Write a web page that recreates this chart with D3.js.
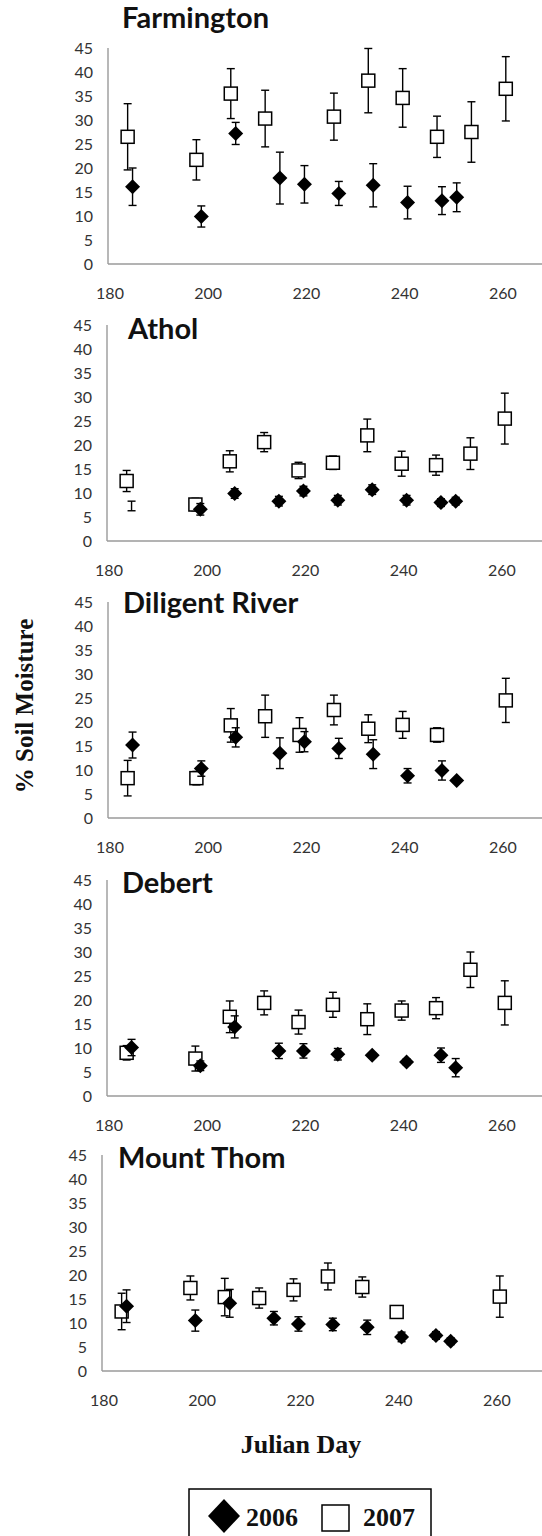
<!DOCTYPE html>
<html>
<head>
<meta charset="utf-8">
<script src="https://cdn.jsdelivr.net/npm/d3@7"></script>
<style>
  body { margin: 0; background: #fff; }
  svg { display: block; }
</style>
</head>
<body>
<div id="chart-area"></div>
<script>
// sites, top to bottom
const sites = ["Farmington", "Athol", "Diligent River", "Debert", "Mount Thom"];

// sampling days (Julian day)
const days2006 = [185, 199, 206, 215, 220, 227, 234, 241, 248, 251];
const days2007 = [184, 198, 205, 212, 219, 226, 233, 240, 247, 254, 261];

// % soil moisture, mean and error (null = not sampled)
const farmington06 = [16.1, 9.9, 27.2, 17.9, 16.6, 14.7, 16.4, 12.8, 13.2, 13.9];
const farmington06Err = [3.9, 2.2, 2.3, 5.4, 3.9, 2.5, 4.5, 3.4, 2.9, 3.0];
const farmington07 = [26.5, 21.7, 35.5, 30.3, null, 30.7, 38.2, 34.6, 26.5, 27.5, 36.5];
const farmington07Err = [6.9, 4.2, 5.2, 5.9, null, 4.9, 6.7, 6.1, 4.3, 6.3, 6.7];

const athol06 = [7.3, 6.6, 9.9, 8.3, 10.4, 8.5, 10.7, 8.5, 8.0, 8.3];
const athol06Err = [1.0, 1.2, 1.0, 1.0, 1.0, 1.0, 1.0, 1.0, 0.8, 0.8];
const athol07 = [12.5, 7.6, 16.6, 20.6, 14.7, 16.3, 22.0, 16.1, 15.8, 18.2, 25.5];
const athol07Err = [2.2, 1.3, 2.2, 2.0, 1.7, 1.4, 3.4, 2.6, 2.1, 3.3, 5.3];

const diligent06 = [15.2, 10.3, 16.8, 13.5, 15.9, 14.5, 13.3, 8.8, 9.9, 7.8];
const diligent06Err = [2.7, 1.6, 2.0, 3.2, 2.1, 2.1, 3.0, 1.5, 2.0, 0.4];
const diligent07 = [8.3, 8.3, 19.3, 21.2, 17.3, 22.5, 18.6, 19.4, 17.3, null, 24.5];
const diligent07Err = [3.7, 1.4, 3.5, 4.4, 3.6, 3.1, 2.9, 2.8, 1.5, null, 4.6];

const debert06 = [10.1, 6.3, 14.4, 9.4, 9.4, 8.7, 8.5, 7.1, 8.5, 5.9];
const debert06Err = [1.7, 1.0, 2.3, 1.6, 1.5, 1.2, 0.5, 0.6, 1.5, 1.9];
const debert07 = [9.0, 7.8, 16.5, 19.4, 15.4, 19.0, 16.0, 17.8, 18.3, 26.3, 19.4];
const debert07Err = [1.5, 2.6, 3.3, 2.5, 2.5, 2.6, 3.2, 2.0, 2.2, 3.7, 4.6];

const mountThom06 = [13.5, 10.5, 14.1, 11.0, 9.8, 9.7, 9.1, 7.1, 7.4, 6.2];
const mountThom06Err = [3.4, 2.2, 2.9, 1.4, 1.5, 1.3, 1.5, 1.0, 0.8, 0.7];
const mountThom07 = [12.4, 17.3, 15.4, 15.2, 16.9, 19.7, 17.5, 12.3, null, null, 15.5];
const mountThom07Err = [3.8, 2.5, 3.9, 2.1, 2.3, 2.8, 2.1, 1.0, null, null, 4.3];

// the Athol day-185 point shows only its error bar in the original
const noMarker = [["Athol", 185]];

const yTicks = [0, 5, 10, 15, 20, 25, 30, 35, 40, 45];
const xTicks = [180, 200, 220, 240, 260];
const legendYears = ["2006", "2007"];

const series06 = [farmington06, athol06, diligent06, debert06, mountThom06];
const errs06 = [farmington06Err, athol06Err, diligent06Err, debert06Err, mountThom06Err];
const series07 = [farmington07, athol07, diligent07, debert07, mountThom07];
const errs07 = [farmington07Err, athol07Err, diligent07Err, debert07Err, mountThom07Err];

const toPoints = (days, vals, errs, site) => days
    .map((d, i) => ({ day: d, v: vals[i], e: errs[i], site }))
    .filter(p => p.v !== null);

const chartSize = { width: 542, height: 1536 };
const panelTop = [48, 325, 602, 880, 1155];
const panelLeft = [108, 107, 108, 107, 102];
const panelHeight = 216;
const titleX = [122, 128, 123, 122, 118];
const titleY = [28, 339, 613, 893, 1168];
const axisColor = "#9a9a9a";
const sansFont = "Lato, 'Open Sans', sans-serif";
const serifFont = "'Liberation Serif', 'Times New Roman', serif";

const svg = d3.select("#chart-area")
    .append("svg")
    .attr("width", chartSize.width)
    .attr("height", chartSize.height);

const diamondPath = (cx, cy, r) => `M${cx},${cy - r}L${cx + r},${cy}L${cx},${cy + r}L${cx - r},${cy}Z`;

const drawErrorBars = (g, pts, x, y) => {
    const cap = 4;
    const bars = g.selectAll(null).data(pts).enter().append("g")
        .attr("stroke", "#000").attr("stroke-width", 1.4);
    bars.append("line")
        .attr("x1", p => x(p.day)).attr("x2", p => x(p.day))
        .attr("y1", p => y(p.v - p.e)).attr("y2", p => y(p.v + p.e));
    bars.append("line")
        .attr("x1", p => x(p.day) - cap).attr("x2", p => x(p.day) + cap)
        .attr("y1", p => y(p.v + p.e)).attr("y2", p => y(p.v + p.e));
    bars.append("line")
        .attr("x1", p => x(p.day) - cap).attr("x2", p => x(p.day) + cap)
        .attr("y1", p => y(p.v - p.e)).attr("y2", p => y(p.v - p.e));
};

sites.forEach((site, i) => {
    const left = panelLeft[i];
    const x = d3.scaleLinear().domain([180, 270]).range([left, left + 442]);
    const y = d3.scaleLinear().domain([0, 45]).range([panelTop[i] + panelHeight, panelTop[i]]);
    const g = svg.append("g").attr("class", "panel");

    // axis lines
    g.append("line")
        .attr("x1", left).attr("x2", left)
        .attr("y1", y(45)).attr("y2", y(0))
        .attr("stroke", axisColor).attr("stroke-width", 1.4);
    g.append("line")
        .attr("x1", left).attr("x2", chartSize.width)
        .attr("y1", y(0)).attr("y2", y(0))
        .attr("stroke", axisColor).attr("stroke-width", 1.4);

    // y tick labels
    g.selectAll(null).data(yTicks).enter().append("text")
        .attr("x", left - 15)
        .attr("y", d => y(d))
        .attr("dy", "0.35em")
        .attr("text-anchor", "end")
        .attr("font-family", sansFont)
        .attr("font-size", 16)
        .attr("fill", "#333")
        .text(d => d);

    // x tick labels
    g.selectAll(null).data(xTicks).enter().append("text")
        .attr("x", d => x(d) + 2)
        .attr("y", y(0) + 29)
        .attr("dy", "0.35em")
        .attr("text-anchor", "middle")
        .attr("font-family", sansFont)
        .attr("font-size", 16)
        .attr("fill", "#333")
        .text(d => d);

    // title
    g.append("text")
        .attr("x", titleX[i])
        .attr("y", titleY[i])
        .attr("font-family", sansFont)
        .attr("font-weight", "bold")
        .attr("font-size", 29)
        .attr("fill", "#111")
        .text(site);

    const pts07 = toPoints(days2007, series07[i], errs07[i], site);
    const pts06 = toPoints(days2006, series06[i], errs06[i], site);

    // 2007: open squares
    drawErrorBars(g, pts07, x, y);
    g.selectAll(null).data(pts07).enter().append("rect")
        .attr("x", p => x(p.day) - 6.5)
        .attr("y", p => y(p.v) - 6.5)
        .attr("width", 13).attr("height", 13)
        .attr("fill", "#fff")
        .attr("stroke", "#000")
        .attr("stroke-width", 1.5);

    // 2006: filled diamonds
    drawErrorBars(g, pts06, x, y);
    g.selectAll(null)
        .data(pts06.filter(p => !noMarker.some(([s, d]) => s === p.site && d === p.day)))
        .enter().append("path")
        .attr("d", p => diamondPath(x(p.day), y(p.v), 7.5))
        .attr("fill", "#000");
});

// axis titles
svg.append("text")
    .attr("transform", "translate(33, 706) rotate(-90)")
    .attr("text-anchor", "middle")
    .attr("font-family", serifFont)
    .attr("font-weight", "bold")
    .attr("font-size", 25)
    .attr("fill", "#111")
    .text("% Soil Moisture");

svg.append("text")
    .attr("x", 301)
    .attr("y", 1453)
    .attr("text-anchor", "middle")
    .attr("font-family", serifFont)
    .attr("font-weight", "bold")
    .attr("font-size", 26)
    .attr("fill", "#111")
    .text("Julian Day");

// legend
const legend = svg.append("g").attr("class", "legend");
legend.append("rect")
    .attr("x", 189).attr("y", 1489)
    .attr("width", 242).attr("height", 70)
    .attr("fill", "#fff").attr("stroke", "#000").attr("stroke-width", 1.5);
legend.append("path")
    .attr("d", `M224,1499L240,1516L224,1533L208,1516Z`)
    .attr("fill", "#000");
legend.append("rect")
    .attr("x", 322).attr("y", 1505)
    .attr("width", 27).attr("height", 26)
    .attr("fill", "#fff").attr("stroke", "#000").attr("stroke-width", 1.5);
legend.selectAll(null).data(legendYears).enter().append("text")
    .attr("x", (d, k) => k === 0 ? 246 : 363)
    .attr("y", 1526)
    .attr("font-family", serifFont)
    .attr("font-weight", "bold")
    .attr("font-size", 26)
    .attr("fill", "#111")
    .text(d => d);
</script>
</body>
</html>
